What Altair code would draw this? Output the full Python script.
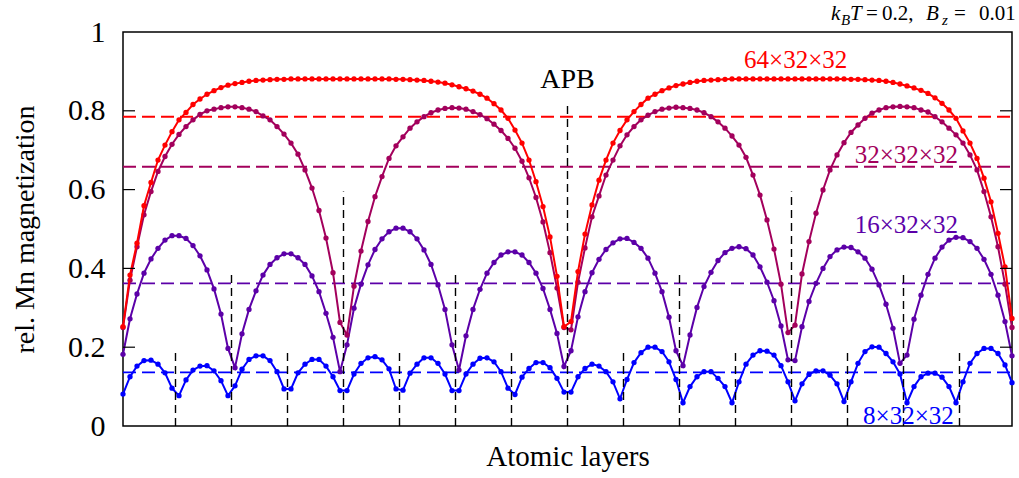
import altair as alt
import pandas as pd

# ---------------- data ----------------
layers = list(range(128))

mag_64 = [
    0.252, 0.383, 0.464, 0.559, 0.618, 0.675, 0.713, 0.747, 0.777, 0.796, 0.816, 0.830, 0.842, 0.851, 0.859, 0.865,
    0.869, 0.872, 0.875, 0.877, 0.878, 0.879, 0.880, 0.880, 0.881, 0.881, 0.881, 0.881, 0.881, 0.881, 0.881, 0.881,
    0.881, 0.881, 0.881, 0.881, 0.881, 0.881, 0.881, 0.880, 0.880, 0.879, 0.878, 0.877, 0.875, 0.873, 0.870, 0.866,
    0.861, 0.856, 0.850, 0.842, 0.832, 0.818, 0.802, 0.781, 0.751, 0.718, 0.675, 0.620, 0.557, 0.480, 0.380, 0.252,
    0.265, 0.392, 0.487, 0.561, 0.624, 0.675, 0.718, 0.750, 0.777, 0.798, 0.816, 0.832, 0.842, 0.851, 0.858, 0.864,
    0.868, 0.872, 0.875, 0.877, 0.878, 0.879, 0.880, 0.881, 0.881, 0.881, 0.881, 0.881, 0.881, 0.881, 0.881, 0.881,
    0.881, 0.881, 0.881, 0.881, 0.881, 0.881, 0.881, 0.881, 0.880, 0.880, 0.879, 0.878, 0.877, 0.875, 0.872, 0.868,
    0.863, 0.858, 0.852, 0.844, 0.833, 0.819, 0.802, 0.781, 0.749, 0.718, 0.679, 0.629, 0.569, 0.489, 0.404, 0.273,
]

mag_32 = [
    0.250, 0.370, 0.455, 0.536, 0.595, 0.646, 0.684, 0.715, 0.740, 0.760, 0.777, 0.791, 0.800, 0.804, 0.808, 0.810,
    0.810, 0.808, 0.804, 0.798, 0.787, 0.777, 0.760, 0.741, 0.718, 0.690, 0.650, 0.604, 0.547, 0.477, 0.389, 0.263,
    0.231, 0.355, 0.444, 0.519, 0.582, 0.633, 0.679, 0.711, 0.734, 0.756, 0.772, 0.785, 0.795, 0.802, 0.806, 0.808,
    0.807, 0.804, 0.798, 0.790, 0.780, 0.766, 0.750, 0.730, 0.705, 0.672, 0.630, 0.580, 0.518, 0.440, 0.350, 0.250,
    0.244, 0.365, 0.452, 0.531, 0.584, 0.637, 0.675, 0.711, 0.739, 0.760, 0.777, 0.789, 0.798, 0.804, 0.807, 0.809,
    0.808, 0.806, 0.802, 0.795, 0.785, 0.772, 0.756, 0.736, 0.713, 0.682, 0.637, 0.586, 0.523, 0.449, 0.360, 0.237,
    0.256, 0.386, 0.468, 0.540, 0.599, 0.650, 0.688, 0.719, 0.745, 0.764, 0.781, 0.794, 0.802, 0.808, 0.810, 0.811,
    0.810, 0.808, 0.802, 0.797, 0.785, 0.772, 0.756, 0.739, 0.718, 0.688, 0.650, 0.595, 0.531, 0.455, 0.360, 0.250,
]

mag_16 = [
    0.182, 0.272, 0.335, 0.388, 0.424, 0.451, 0.472, 0.483, 0.483, 0.476, 0.458, 0.432, 0.396, 0.348, 0.284, 0.197,
    0.148, 0.234, 0.296, 0.343, 0.383, 0.410, 0.427, 0.437, 0.437, 0.427, 0.410, 0.381, 0.341, 0.286, 0.225, 0.138,
    0.206, 0.299, 0.360, 0.409, 0.448, 0.475, 0.493, 0.502, 0.502, 0.493, 0.475, 0.447, 0.410, 0.358, 0.296, 0.206,
    0.142, 0.229, 0.296, 0.347, 0.388, 0.415, 0.434, 0.442, 0.442, 0.434, 0.415, 0.388, 0.349, 0.296, 0.235, 0.151,
    0.191, 0.277, 0.341, 0.389, 0.423, 0.448, 0.465, 0.475, 0.476, 0.466, 0.451, 0.426, 0.388, 0.341, 0.276, 0.191,
    0.153, 0.231, 0.301, 0.354, 0.390, 0.420, 0.440, 0.451, 0.455, 0.450, 0.434, 0.404, 0.365, 0.318, 0.254, 0.168,
    0.166, 0.252, 0.316, 0.362, 0.400, 0.430, 0.447, 0.454, 0.453, 0.442, 0.426, 0.398, 0.358, 0.309, 0.248, 0.159,
    0.180, 0.271, 0.332, 0.385, 0.426, 0.454, 0.472, 0.479, 0.478, 0.468, 0.451, 0.423, 0.385, 0.332, 0.265, 0.178,
]

mag_8 = [
    0.081, 0.125, 0.152, 0.166, 0.167, 0.157, 0.135, 0.096, 0.077, 0.117, 0.142, 0.152, 0.153, 0.140, 0.115, 0.077,
    0.102, 0.144, 0.169, 0.178, 0.178, 0.166, 0.138, 0.094, 0.094, 0.135, 0.157, 0.169, 0.169, 0.152, 0.125, 0.090,
    0.090, 0.132, 0.159, 0.173, 0.176, 0.168, 0.145, 0.094, 0.091, 0.134, 0.157, 0.173, 0.173, 0.159, 0.132, 0.090,
    0.090, 0.132, 0.157, 0.172, 0.173, 0.163, 0.138, 0.096, 0.080, 0.124, 0.146, 0.161, 0.161, 0.148, 0.121, 0.086,
    0.086, 0.125, 0.146, 0.157, 0.152, 0.138, 0.112, 0.069, 0.118, 0.161, 0.186, 0.200, 0.200, 0.189, 0.163, 0.118,
    0.059, 0.100, 0.125, 0.138, 0.138, 0.121, 0.100, 0.059, 0.112, 0.157, 0.180, 0.191, 0.190, 0.180, 0.153, 0.112,
    0.064, 0.107, 0.131, 0.140, 0.140, 0.129, 0.107, 0.062, 0.112, 0.159, 0.189, 0.201, 0.200, 0.184, 0.163, 0.132,
    0.059, 0.100, 0.125, 0.134, 0.134, 0.124, 0.100, 0.059, 0.112, 0.159, 0.184, 0.197, 0.197, 0.184, 0.155, 0.110,
]

series_names = ["8×32×32", "16×32×32", "32×32×32", "64×32×32"]
series_colors = ["#0000ff", "#5c00a8", "#a3005c", "#ff0000"]
series_means = [0.136, 0.362, 0.658, 0.785]
label_x = [112.2, 111.9, 111.9, 96.1]
label_y = [0.026, 0.510, 0.688, 0.929]

apb_pos = [7.5, 15.5, 23.5, 31.5, 39.5, 47.5, 55.5, 63.5, 71.5, 79.5, 87.5, 95.5, 103.5, 111.5, 119.5]
apb_top = [0.19, 0.39, 0.19, 0.595, 0.19, 0.39, 0.19, 0.82, 0.19, 0.39, 0.19, 0.595, 0.19, 0.39, 0.19]

y_ticks = [0, 0.2, 0.4, 0.6, 0.8, 1]
inner_ticks = [0.2, 0.4, 0.6, 0.8]

FONT = "Liberation Serif"
W, H = 889, 394

# ---------------- build ----------------
all_values = [mag_8, mag_16, mag_32, mag_64]
x_scale = alt.Scale(domain=[0, 127], nice=False, zero=False)
y_scale = alt.Scale(domain=[0, 1], nice=False)

x_axis = alt.Axis(labels=False, ticks=False, domain=False, grid=False,
                  title="Atomic layers", titleFont=FONT, titleFontSize=29,
                  titleFontWeight="normal", titleColor="black", titlePadding=16)
y_axis = alt.Axis(values=y_ticks, format="~g", ticks=False, domain=False, grid=False,
                  labelFont=FONT, labelFontSize=30, labelColor="black", labelPadding=18,
                  title="rel. Mn magnetization", titleFont=FONT, titleFontSize=28,
                  titleFontWeight="normal", titleColor="black", titlePadding=28)

layers_list = []

axis_df = pd.DataFrame({"layer": [0, 127], "v": [0, 1]})
layers_list.append(
    alt.Chart(axis_df).mark_point(opacity=0).encode(
        x=alt.X("layer:Q", scale=x_scale, axis=x_axis),
        y=alt.Y("v:Q", scale=y_scale, axis=y_axis),
    )
)

mean_df = pd.DataFrame({"series": series_names, "mean": series_means, "color": series_colors})
layers_list.append(
    alt.Chart(mean_df).mark_rule(strokeDash=[13, 6], strokeWidth=1.9).encode(
        y=alt.Y("mean:Q", scale=y_scale),
        x=alt.value(0), x2=alt.value(W),
        color=alt.Color("color:N", scale=None),
    )
)

for name, col, vals in zip(series_names, series_colors, all_values):
    df = pd.DataFrame({"layer": layers, "m": vals})
    base = alt.Chart(df).encode(
        x=alt.X("layer:Q", scale=x_scale),
        y=alt.Y("m:Q", scale=y_scale),
    )
    layers_list.append(base.mark_line(color=col, strokeWidth=2))
    layers_list.append(base.mark_circle(color=col, size=28, opacity=1))

apb_df = pd.DataFrame({"pos": apb_pos, "top": apb_top, "zero": [0] * len(apb_pos)})
layers_list.append(
    alt.Chart(apb_df).mark_rule(color="black", strokeDash=[8, 5], strokeWidth=1.4).encode(
        x=alt.X("pos:Q", scale=x_scale),
        y=alt.Y("zero:Q", scale=y_scale),
        y2="top:Q",
    )
)

tick_df = pd.DataFrame({"v": inner_ticks})
layers_list.append(
    alt.Chart(tick_df).mark_rule(color="black", strokeWidth=1.2).encode(
        y=alt.Y("v:Q", scale=y_scale), x=alt.value(0), x2=alt.value(12)))
layers_list.append(
    alt.Chart(tick_df).mark_rule(color="black", strokeWidth=1.2).encode(
        y=alt.Y("v:Q", scale=y_scale), x=alt.value(W - 12), x2=alt.value(W)))

lab_df = pd.DataFrame({"series": series_names, "lx": label_x, "ly": label_y, "color": series_colors})
layers_list.append(
    alt.Chart(lab_df).mark_text(font=FONT, fontSize=25, align="center", baseline="middle").encode(
        x=alt.X("lx:Q", scale=x_scale),
        y=alt.Y("ly:Q", scale=y_scale),
        text="series:N",
        color=alt.Color("color:N", scale=None),
    )
)

apb_lab = pd.DataFrame({"t": ["APB"], "lx": [63.5], "ly": [0.879]})
layers_list.append(
    alt.Chart(apb_lab).mark_text(font=FONT, fontSize=28, align="center", baseline="middle", color="black").encode(
        x=alt.X("lx:Q", scale=x_scale), y=alt.Y("ly:Q", scale=y_scale), text="t:N")
)

# top-right parameter annotation (k_B T = 0.2,  B_z =  0.01)
ann_parts = [
    ("k", 831, 20, 21, "italic"),
    ("B", 841, 25, 15, "italic"),
    ("T", 850, 20, 21, "italic"),
    ("=", 866, 20, 21, "normal"),
    ("0.2,", 882, 20, 21, "normal"),
    ("B", 926, 20, 21, "italic"),
    ("z", 942, 25, 15, "italic"),
    ("=", 954, 20, 21, "normal"),
    ("0.01", 979, 20, 21, "normal"),
]
for txt, px, py, fs, style in ann_parts:
    layers_list.append(
        alt.Chart(pd.DataFrame({"t": [txt]})).mark_text(
            font=FONT, fontSize=fs, fontStyle=style, align="left", baseline="alphabetic", color="black"
        ).encode(x=alt.value(px - 123), y=alt.value(py - 32), text="t:N")
    )

chart = alt.layer(*layers_list).properties(
    width=W, height=H,
    padding={"left": 123, "top": 32, "right": 7, "bottom": 52},
    autosize=alt.AutoSizeParams(type="none"),
).configure_view(stroke="black", strokeWidth=1.5)

chart.save("out.html", embed_options={"renderer": "svg", "actions": False})
